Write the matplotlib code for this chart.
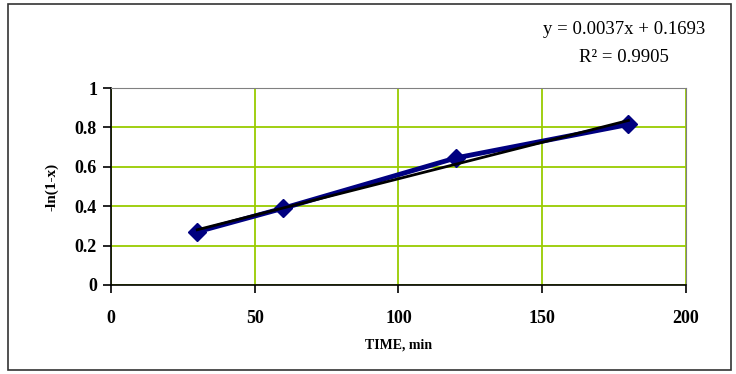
import matplotlib.pyplot as plt
from matplotlib.patches import Rectangle

# data
time_min = [30, 60, 120, 180]
neg_ln = [0.27, 0.39, 0.645, 0.815]

# trendline as printed on the chart
slope = 0.0037
intercept = 0.1693
r2 = 0.9905

x_ticks = [0, 50, 100, 150, 200]
y_ticks = [0, 0.2, 0.4, 0.6, 0.8, 1]
y_tick_labels = ['0', '0.2', '0.4', '0.6', '0.8', '1']

plt.rcParams['font.family'] = ['Liberation Serif', 'DejaVu Serif']

fig = plt.figure(figsize=(7.36, 3.74), dpi=100)
ax = fig.add_axes([0.1508, 0.238, 0.7812, 0.5267])

# outer chart border
fig.patches.append(Rectangle((8 / 736, 4 / 374), 723 / 736, 366 / 374,
                             transform=fig.transFigure, fill=False,
                             edgecolor='#333333', linewidth=1.2))

ax.plot(time_min, neg_ln, color='#000080', linewidth=3.5, marker='D',
        markersize=9, zorder=3)

tx = [time_min[0], time_min[-1]]
ty = [slope * v + intercept for v in tx]
ax.plot(tx, ty, color='black', linewidth=2, zorder=4)

ax.set_xlim(0, 200)
ax.set_ylim(0, 1)
ax.set_xticks(x_ticks)
ax.set_yticks(y_ticks)
ax.set_yticklabels(y_tick_labels)
ax.grid(True, color='#99CC00', linewidth=1.3)
ax.set_axisbelow(True)

for s in ['top', 'right']:
    ax.spines[s].set_color('#808080')
for s in ['left', 'bottom']:
    ax.spines[s].set_color('black')
    ax.spines[s].set_linewidth(1.2)

ax.tick_params(axis='both', direction='out', length=6, width=1.2,
               labelsize=13, pad=12)
ax.tick_params(axis='y', pad=4)
for lab in ax.get_xticklabels() + ax.get_yticklabels():
    lab.set_fontweight('bold')

ax.set_xlabel('TIME, min', fontsize=10, fontweight='bold', labelpad=8)
ax.set_ylabel('-ln(1-x)', fontsize=11, fontweight='bold', labelpad=12)

fig.text(624 / 736, 1 - 30 / 374, 'y = 0.0037x + 0.1693', ha='center',
         va='center', fontsize=13.5)
fig.text(624 / 736, 1 - 57 / 374, 'R\u00b2 = %.4f' % r2, ha='center',
         va='center', fontsize=13.5)

fig.savefig('out.png', dpi=100)
